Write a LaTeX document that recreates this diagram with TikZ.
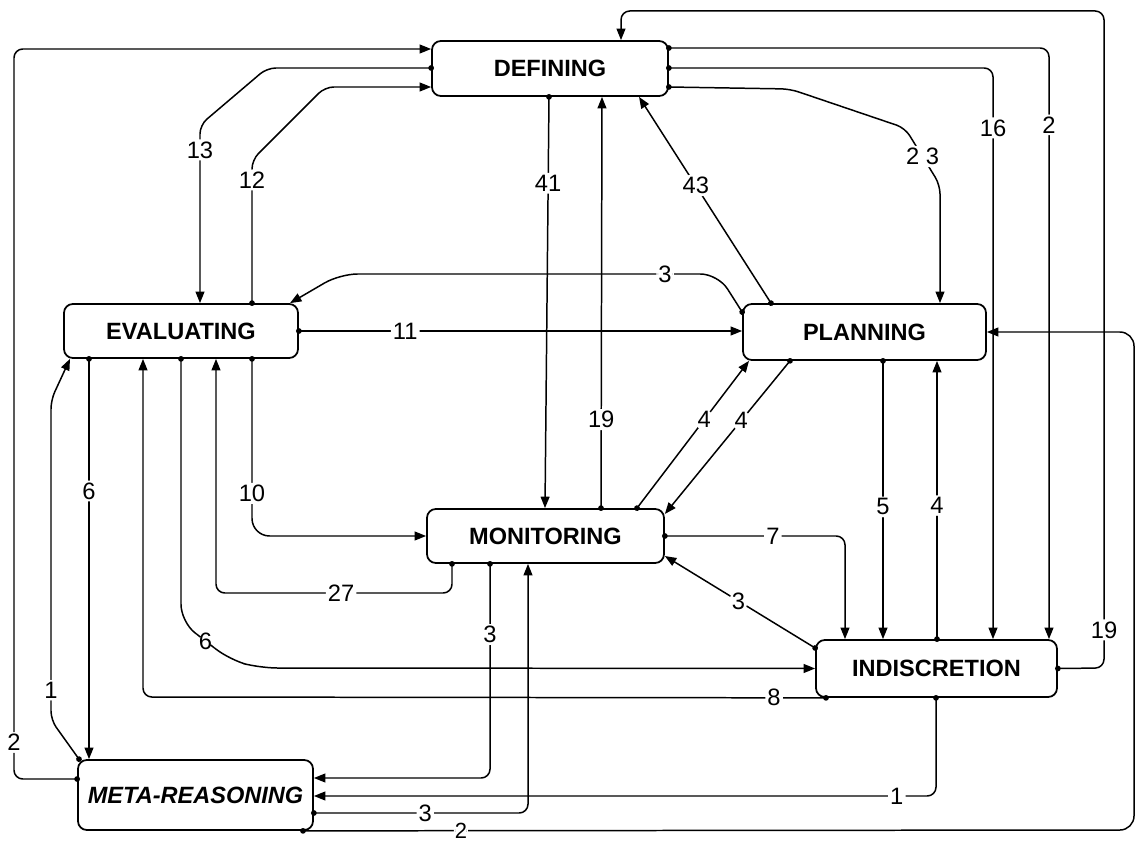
\documentclass[tikz,border=0pt]{standalone}
\usepackage{fontspec}
\setmainfont{Liberation Sans}
\usetikzlibrary{arrows.meta}
\begin{document}
\begin{tikzpicture}[x=0.02cm,y=-0.02cm,
  state/.style={draw,line width=1pt,rounded corners=5pt,inner sep=0pt,
    font=\fontsize{13.4}{15}\selectfont\bfseries},
  con/.style={line width=0.85pt,rounded corners=5pt,shorten <=-1.6pt,
    {Circle[length=3.2pt]}-{Triangle[length=6.5pt,width=5pt]}},
  lbl/.style={fill=white,inner sep=1.2pt,font=\fontsize{13.5}{15}\selectfont}]
\useasboundingbox (0,0) rectangle (1137,841);
% states
\node[state,minimum width=4.72cm,minimum height=1.10cm] (def) at (550,68.5) {DEFINING};
\node[state,minimum width=4.68cm,minimum height=1.08cm] (eval) at (181,331) {EVALUATING};
\node[state,minimum width=4.86cm,minimum height=1.12cm] (plan) at (864.5,332) {PLANNING};
\node[state,minimum width=4.74cm,minimum height=1.08cm] (mon) at (545.5,536) {MONITORING};
\node[state,minimum width=4.82cm,minimum height=1.14cm] (ind) at (936.5,668.5) {INDISCRETION};
\node[state,minimum width=4.70cm,minimum height=1.40cm,
  font=\fontsize{13.4}{15}\selectfont\bfseries\itshape] (meta) at (195.5,795) {META-REASONING};
% transitions around DEFINING
\draw[con] (meta.west |- 0,779) -- (14,779) -- node[lbl,pos=0.05]{2} (14,49) -- (def.west |- 0,49);
\draw[con] (def.west |- 0,68) -- (267,68) -- (200,125) -- node[lbl,pos=0.14]{13} (eval.north -| 200,0);
\draw[con] (eval.north -| 252,0) -- node[lbl,pos=0.86]{12} (252,160) -- (325,87) -- (def.west |- 0,87);
\draw[con] (def.south -| 549,0) -- node[lbl,pos=0.21]{41} (mon.north -| 545,0);
\draw[con] (mon.north -| 601,0) -- node[lbl,pos=0.215]{19} (def.south -| 602,0);
\draw[con] (plan.north -| 771,0) -- node[lbl,pos=0.57]{43} (def.south -| 639,0);
\draw[con] (def.east |- 0,87) -- (790,89) -- (905,128) -- node[lbl]{2 3} (940,185) -- (plan.north -| 940,0);
\draw[con] (def.east |- 0,68) -- (993,68) -- node[lbl,pos=0.105]{16} (ind.north -| 993,0);
\draw[con] (def.east |- 0,48) -- (1049,48) -- node[lbl,pos=0.13]{2} (ind.north -| 1049,0);
\draw[con] (ind.east) -- (1104,668) -- node[lbl,pos=0.058]{19} (1104,11) -- (621,11) -- (def.north -| 621,0);
% EVALUATING and PLANNING
\draw[con,rounded corners=10pt] (plan.west |- 0,312) -- (718,274) -- node[lbl,pos=0.14]{3} (340,274) -- (eval.north -| 290,0);
\draw[con] (eval.east) -- node[lbl,pos=0.24]{11} (plan.west |- eval.east);
\draw[con] (mon.north -| 637,0) -- node[lbl,pos=0.6]{4} (plan.south -| 749,0);
\draw[con] (plan.south -| 790,0) -- node[lbl,pos=0.39]{4} (mon.east |- 0,514);
\draw[con] (plan.south -| 883,0) -- node[lbl,pos=0.525]{5} (ind.north -| 883,0);
\draw[con] (ind.north -| 937,0) -- node[lbl,pos=0.48]{4} (plan.south -| 937,0);
% MONITORING and INDISCRETION
\draw[con] (mon.east) -- node[lbl,pos=0.6]{7} (845,536) -- (ind.north -| 845,0);
\draw[con] (ind.west |- 0,648) -- node[lbl,pos=0.51]{3} (mon.east |- 0,556);
\draw[con,rounded corners=10pt] (eval.south -| 252,0) -- node[lbl,pos=0.76]{10} (252,536) -- (mon.west);
\draw[con] (mon.south -| 452,0) -- (452,593) -- node[lbl,pos=0.47]{27} (216,593) -- (eval.south -| 216,0);
\draw[con,rounded corners=10pt] (eval.south -| 181,0) -- (181,622) -- node[lbl]{6} (230,660) -- (260,668) -- (ind.west);
\draw[con] (ind.south -| 826,0) -- node[lbl,pos=0.076]{8} (143,697) -- (eval.south -| 143,0);
% META-REASONING
\draw[con] (eval.south -| 89,0) -- node[lbl,pos=0.33]{6} (meta.north -| 89,0);
\draw[con] (meta.north -| 79,0) -- (51,720) -- node[lbl,pos=0.093]{1} (51,400) -- (eval.south -| 70,0);
\draw[con] (mon.south -| 490,0) -- node[lbl,pos=0.33]{3} (490,778) -- (meta.east |- 0,778);
\draw[con] (meta.east |- 0,813) -- node[lbl,pos=0.52]{3} (528,813) -- (mon.south -| 528,0);
\draw[con] (ind.south -| 936,0) -- (936,796) -- node[lbl,pos=0.063]{1} (meta.east |- 0,796);
\draw[con,rounded corners=8pt] (meta.south -| 303,0) -- node[lbl,pos=0.19,inner sep=0.5pt,
  font=\fontsize{12.5}{14}\selectfont]{2} (1134,830) -- (1134,332) -- (plan.east |- 0,332);
\end{tikzpicture}
\end{document}
